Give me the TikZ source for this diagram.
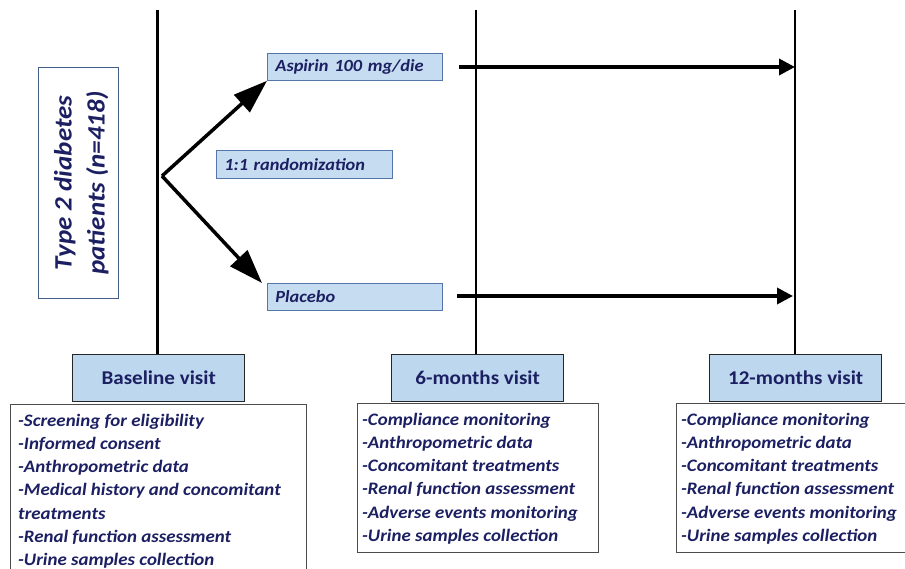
\documentclass[tikz,border=0pt]{standalone}
\usepackage{fontspec}
\setmainfont{Carlito}[FakeStretch=1.08]
\usetikzlibrary{arrows.meta}
\definecolor{navy}{RGB}{28,32,98}
\definecolor{lblue}{RGB}{197,220,241}
\definecolor{vblue}{RGB}{189,215,238}
\definecolor{bblue}{RGB}{84,118,170}
\begin{document}
\begin{tikzpicture}[x=1pt,y=-1pt,
  armbox/.style={draw=bblue, line width=0.8pt, fill=lblue, anchor=north west,
    text width=159pt, inner xsep=8pt, inner ysep=0pt, minimum height=27pt, align=left,
    text=navy, font=\fontsize{17}{20}\selectfont\bfseries\itshape},
  visitbox/.style={draw=black!85, line width=1.4pt, fill=vblue, anchor=north west,
    minimum width=172pt, minimum height=47pt, inner sep=0pt,
    text=navy, font=\fontsize{19.5}{22}\selectfont\bfseries},
  listbox/.style={draw=black!70, line width=0.8pt, fill=white, anchor=north west, inner sep=0pt},
  listtext/.style={anchor=base west, inner sep=0pt, align=left, text=navy,
    font=\fontsize{17.5}{23.3}\selectfont\bfseries\itshape},
  timeline/.style={line width=2.5pt, black},
  bigarrow/.style={line width=3.5pt, black, -{Triangle[length=16pt,width=16pt]}},
  diagarrow/.style={line width=3.5pt, black, -{Triangle[length=34pt,width=23pt]}}
]
\useasboundingbox[fill=white] (0,0) rectangle (905,569);

% patient box
\node[draw=bblue!80!black, line width=0.8pt, fill=white, anchor=north west,
  minimum width=80pt, minimum height=231pt, inner sep=0pt] (pat) at (38,67) {};
\node[rotate=90, align=center, text=navy, font=\fontsize{25}{33}\selectfont\bfseries\itshape]
  (pattext) at ([xshift=3pt]pat.center) {Type 2 diabetes\\patients (n=418)};

% arm boxes
\node[armbox] (asp) at (267,53) {Aspirin 100 mg/die};
\node[armbox, text width=160pt, minimum height=28pt] (rand) at (216,150) {1:1 randomization};
\node[armbox] (plac) at (267,283) {Placebo};

% visit boxes
\node[visitbox] (bv) at (72,354) {Baseline visit};
\node[visitbox] (sv) at (391,354) {6-months visit};
\node[visitbox] (tv) at (709,354) {12-months visit};

% list boxes
\node[listbox, minimum width=296pt, minimum height=190pt] (bl) at (10,404) {};
\node[listbox, minimum width=241pt, minimum height=149pt] (sl) at (357,403) {};
\node[listbox, minimum width=260pt, minimum height=149pt] (tl) at (676,403) {};

% (base anchor = baseline of the last line)
\node[listtext] (blt) at (18,565.8) {%
-Screening for eligibility\\
-Informed consent\\
-Anthropometric data\\
-Medical history and concomitant\\
treatments\\
-Renal function assessment\\
-Urine samples collection};
\node[listtext] (slt) at (362,541.5) {%
-Compliance monitoring\\
-Anthropometric data\\
-Concomitant treatments\\
-Renal function assessment\\
-Adverse events monitoring\\
-Urine samples collection};
\node[listtext] (tlt) at (681,541.5) {%
-Compliance monitoring\\
-Anthropometric data\\
-Concomitant treatments\\
-Renal function assessment\\
-Adverse events monitoring\\
-Urine samples collection};

% timelines
\coordinate (t0) at (157.5,10);
\coordinate (t1) at (476,10);
\coordinate (t2) at (795,10);
\draw[timeline] (t0) -- (t0 |- bv.north);
\draw[timeline] (t1) -- (t1 |- sv.north);
\draw[timeline] (t2) -- (t2 |- tv.north);

% randomization arrows
\coordinate (br) at (162,176);
\draw[diagarrow, line join=miter] (br) -- (asp.south west);
\draw[diagarrow] (br) -- ([xshift=-5pt]plac.north west);

% follow-up arrows
\coordinate (a0) at (459,67);
\coordinate (p0) at (457,296);
\draw[bigarrow] (a0) -- (t2 |- a0);
\draw[bigarrow] (p0) -- ([xshift=-2pt]t2 |- p0);
\end{tikzpicture}
\end{document}
